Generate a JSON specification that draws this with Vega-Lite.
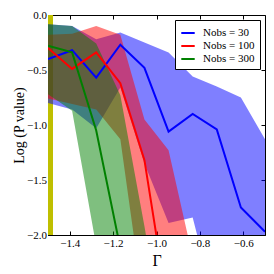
{
  "$schema": "https://vega.github.io/schema/vega-lite/v6.json",
  "autosize": "none",
  "width": 217,
  "height": 220,
  "padding": {"left": 48, "top": 15, "right": 9, "bottom": 39},
  "background": "white",
  "config": {
    "view": {"stroke": "black", "strokeWidth": 1},
    "font": "Liberation Serif",
    "axis": {
      "domainColor": "black", "tickColor": "black", "labelColor": "black", "titleColor": "black",
      "labelFont": "Liberation Serif", "titleFont": "Liberation Serif",
      "labelFontSize": 11, "titleFontSize": 14, "titleFontWeight": "normal",
      "tickSize": -4, "grid": false
    }
  },
  "data": {"values": [
    {"N": "30", "G": -1.5, "lo": -0.80, "hi": -0.085, "m": -0.40},
    {"N": "30", "G": -1.3889, "lo": -0.86, "hi": -0.10, "m": -0.32},
    {"N": "30", "G": -1.2778, "lo": -1.03, "hi": -0.22, "m": -0.57},
    {"N": "30", "G": -1.1667, "lo": -0.66, "hi": -0.16, "m": -0.27},
    {"N": "30", "G": -1.0556, "lo": -1.35, "hi": -0.25, "m": -0.48},
    {"N": "30", "G": -0.9444, "lo": -1.89, "hi": -0.34, "m": -1.06},
    {"N": "30", "G": -0.8333, "lo": -1.84, "hi": -0.56, "m": -0.90},
    {"N": "30", "G": -0.7222, "lo": -2.7, "hi": -0.65, "m": -1.04},
    {"N": "30", "G": -0.6111, "lo": -3.0, "hi": -0.75, "m": -1.75},
    {"N": "30", "G": -0.5, "lo": -3.0, "hi": -1.13, "m": -1.97},
    {"N": "100", "G": -1.5, "lo": -0.76, "hi": -0.18, "m": -0.30},
    {"N": "100", "G": -1.3889, "lo": -0.81, "hi": -0.17, "m": -0.49},
    {"N": "100", "G": -1.2778, "lo": -0.86, "hi": -0.10, "m": -0.34},
    {"N": "100", "G": -1.1667, "lo": -1.13, "hi": -0.18, "m": -0.62},
    {"N": "100", "G": -1.0556, "lo": -2.7, "hi": -0.95, "m": -1.32},
    {"N": "100", "G": -0.9444, "lo": -3.5, "hi": -1.23, "m": -2.7},
    {"N": "100", "G": -0.8333, "lo": -4.0, "hi": -2.2, "m": -4.0},
    {"N": "300", "G": -1.5, "lo": -0.72, "hi": -0.085, "m": -0.28},
    {"N": "300", "G": -1.3889, "lo": -0.87, "hi": -0.10, "m": -0.34},
    {"N": "300", "G": -1.2778, "lo": -2.1, "hi": -0.26, "m": -1.05},
    {"N": "300", "G": -1.1667, "lo": -3.5, "hi": -0.73, "m": -2.12},
    {"N": "300", "G": -1.0556, "lo": -4.0, "hi": -1.92, "m": -3.2},
    {"N": "300", "G": -0.9444, "lo": -4.5, "hi": -3.2, "m": -4.5}
  ]},
  "resolve": {"axis": {"x": "independent", "y": "independent"}},
  "layer": [
    {
      "layer": [
        {
          "mark": {"type": "rect", "color": "#bfbf00", "clip": true},
          "encoding": {
            "x": {"datum": -1.5, "type": "quantitative", "scale": {"domain": [-1.5, -0.5], "nice": false, "zero": false}},
            "x2": {"datum": -1.48}
          }
        },
        {
          "transform": [{"filter": "datum.N == '30'"}],
          "mark": {"type": "area", "color": "#0000ff", "opacity": 0.5, "clip": true},
          "encoding": {
            "x": {"field": "G", "type": "quantitative"},
            "y": {"field": "lo", "type": "quantitative"},
            "y2": {"field": "hi"}
          }
        },
        {
          "transform": [{"filter": "datum.N == '100'"}],
          "mark": {"type": "area", "color": "#ff0000", "opacity": 0.5, "clip": true},
          "encoding": {
            "x": {"field": "G", "type": "quantitative"},
            "y": {"field": "lo", "type": "quantitative"},
            "y2": {"field": "hi"}
          }
        },
        {
          "transform": [{"filter": "datum.N == '300'"}],
          "mark": {"type": "area", "color": "#008000", "opacity": 0.5, "clip": true},
          "encoding": {
            "x": {"field": "G", "type": "quantitative"},
            "y": {"field": "lo", "type": "quantitative"},
            "y2": {"field": "hi"}
          }
        },
        {
          "mark": {"type": "line", "strokeWidth": 2, "clip": true},
          "encoding": {
            "x": {"field": "G", "type": "quantitative"},
            "y": {"field": "m", "type": "quantitative"},
            "color": {
              "field": "N", "type": "nominal",
              "scale": {"domain": ["30", "100", "300"], "range": ["#0000ff", "#ff0000", "#008000"]},
              "legend": {
                "title": null, "orient": "top-right", "offset": 5,
                "strokeColor": "black", "fillColor": "white", "padding": 5, "cornerRadius": 0,
                "symbolType": "stroke", "symbolSize": 180, "symbolStrokeWidth": 2,
                "labelFont": "Liberation Serif", "labelFontSize": 11, "labelColor": "black", "labelFontWeight": "normal",
                "rowPadding": 0, "labelOffset": 7,
                "labelExpr": "'Nobs = ' + datum.label"
              }
            }
          }
        }
      ],
      "encoding": {},
      "resolve": {"axis": {"x": "shared", "y": "shared"}}
    },
    {
      "mark": {"type": "point", "opacity": 0},
      "encoding": {
        "x": {"field": "G", "type": "quantitative", "axis": {"orient": "top", "labels": false, "title": null, "values": [-1.4, -1.2, -1.0, -0.8, -0.6], "domain": false}},
        "y": {"field": "m", "type": "quantitative", "axis": {"orient": "right", "labels": false, "title": null, "values": [-2, -1.5, -1, -0.5, 0], "domain": false}}
      }
    }
  ],
  "encoding": {
    "x": {"type": "quantitative", "scale": {"domain": [-1.5, -0.5], "nice": false, "zero": false},
      "axis": {"orient": "bottom", "title": "Γ", "values": [-1.4, -1.2, -1.0, -0.8, -0.6], "format": ".1f", "labelPadding": 6, "titleFontSize": 16}},
    "y": {"type": "quantitative", "scale": {"domain": [-2, 0], "nice": false, "zero": false},
      "axis": {"orient": "left", "title": "Log (P value)", "values": [-2, -1.5, -1, -0.5, 0], "format": ".1f", "labelPadding": 5.5, "titlePadding": 0}}
  }
}
